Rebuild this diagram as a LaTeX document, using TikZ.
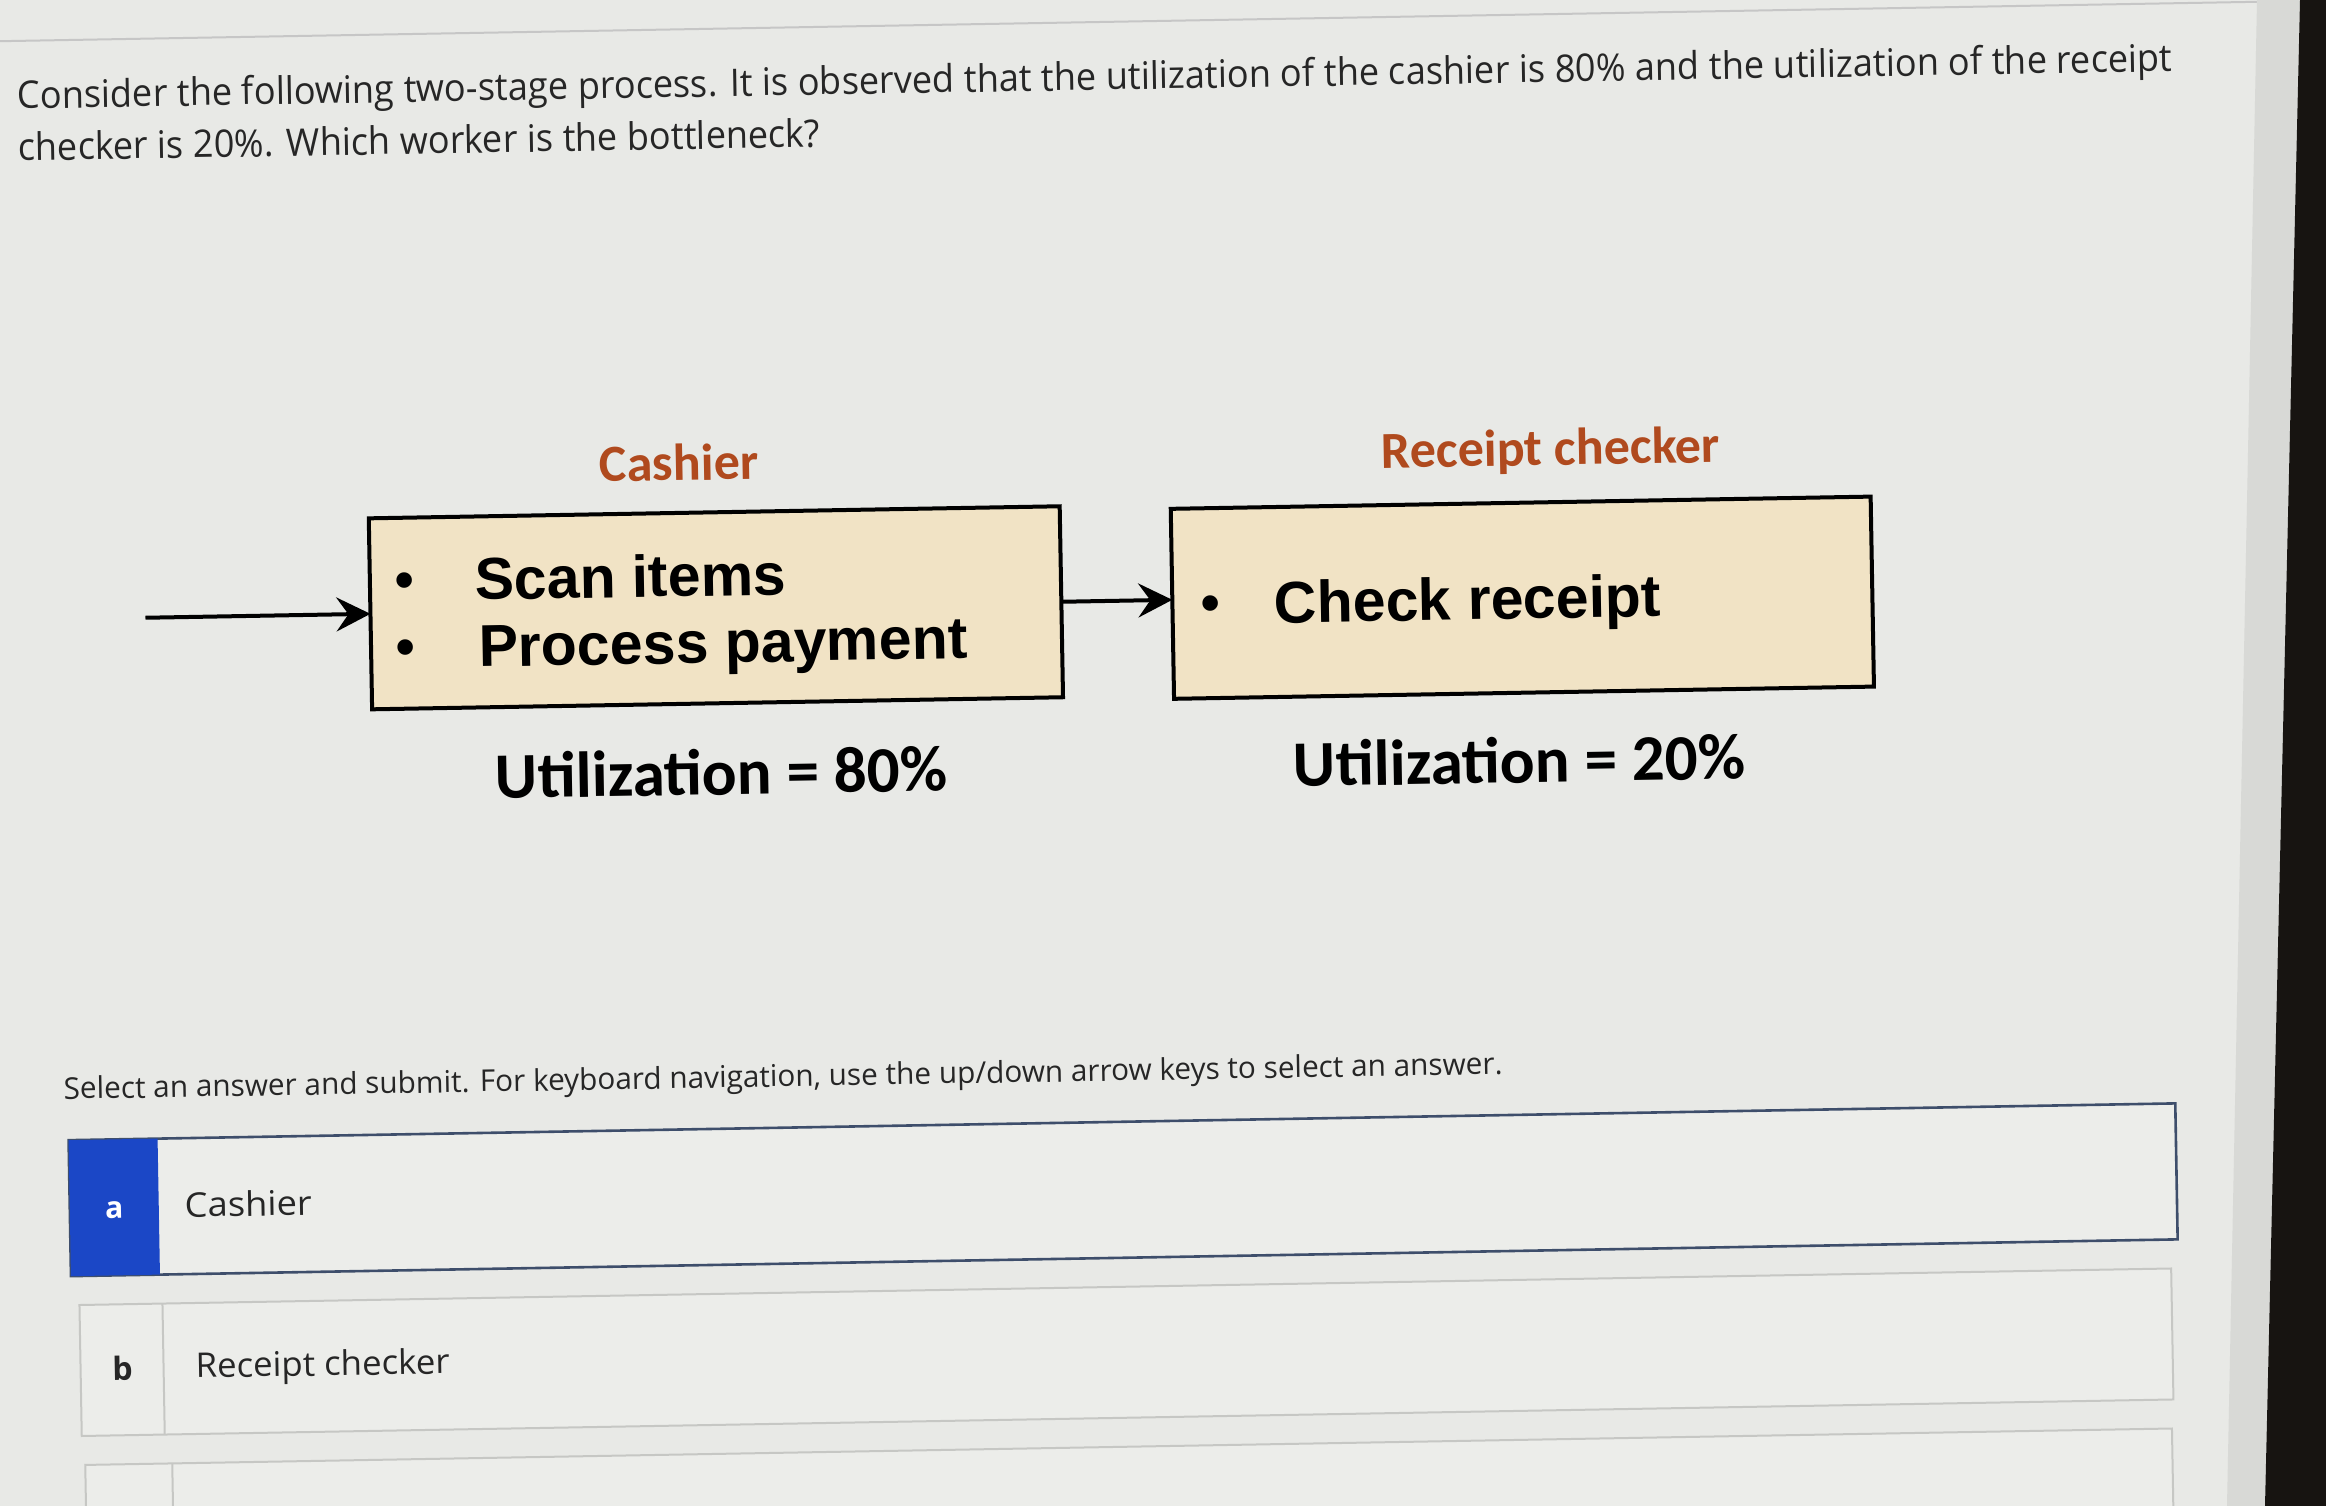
\documentclass[tikz,border=0pt]{standalone}
\usepackage{fontspec}
\usepackage{graphicx}
\setmainfont{Carlito}
\newfontfamily\arialfont{Liberation Sans}
\newfontfamily\calfont{Carlito}
\newfontfamily\uifont{Open Sans}
\usetikzlibrary{arrows.meta}
\definecolor{bg}{HTML}{E8E9E6}
\definecolor{optfill}{HTML}{ECEDEA}
\definecolor{boxfill}{HTML}{F1E3C5}
\definecolor{lblcol}{HTML}{B04A1E}
\definecolor{selblue}{HTML}{1B47C6}
\definecolor{selborder}{HTML}{3E4E6B}
\definecolor{optborder}{HTML}{C6C7C4}
\definecolor{txt}{HTML}{262626}
\definecolor{bezel}{HTML}{171411}
\definecolor{band}{HTML}{D8D9D6}
\newcommand{\fitw}[2]{\resizebox{#1}{\height}{#2}}
\begin{document}
\begin{tikzpicture}[x=0.5pt,y=-0.5pt,
  every node/.style={inner sep=0pt, outer sep=0pt},
  stagebox/.style={draw=black, line width=2pt, fill=boxfill, rectangle},
  boxtxt/.style={anchor=base west, text=black, font=\arialfont\bfseries\fontsize{29.5}{34}\selectfont},
  bul/.style={anchor=base, text=black, font=\arialfont\bfseries\fontsize{27}{30}\selectfont},
  rolelbl/.style={anchor=base, text=lblcol, font=\calfont\bfseries\fontsize{26}{30}\selectfont},
  utiltxt/.style={anchor=base west, text=black, font=\calfont\bfseries\fontsize{32.5}{38}\selectfont},
  flow/.style={line width=2pt, -{Stealth[length=17pt,width=17pt,inset=6pt]}},
  qtxt/.style={anchor=base west, text=txt, font=\uifont\fontsize{19}{23}\selectfont},
  instrtxt/.style={anchor=base west, text=txt, font=\uifont\fontsize{15}{18}\selectfont},
  opttxt/.style={anchor=base west, text=txt, font=\uifont\fontsize{17}{20}\selectfont},
  optbox/.style={draw=optborder, line width=1pt, fill=optfill, rectangle},
  selbox/.style={draw=selborder, line width=1.3pt, fill=optfill, rectangle},
  strip/.style={fill=selblue, rectangle},
  optline/.style={draw=optborder, line width=1pt}
]
\useasboundingbox (0,0) rectangle (2326,1506);
\fill[bg] (0,0) rectangle (2326,1506);
\clip (0,0) rectangle (2326,1506);

\begin{scope}[rotate around={1:(1163,753)}, transform shape]
  % header edge
  \draw[gray!45, line width=1pt] (-100,21) -- (2400,21);

  % question
  \node[qtxt] (q1) at (29,89) {\fitw{1077.5pt}{Consider the following two-stage process. It is observed that the utilization of the cashier is 80\% and the utilization of the receipt}};
  \node[qtxt] (q2) at (29,141) {\fitw{401pt}{checker is 20\%. Which worker is the bottleneck?}};

  % role labels
  \node[rolelbl] (lblcash) at (684,472) {Cashier};
  \node[rolelbl] (lblrec) at (1556,472) {Receipt checker};

  % stage boxes
  \node[stagebox, minimum width=345.5pt, minimum height=95.5pt] (cashier) at (718.5,600) {};
  \node[stagebox, minimum width=350pt, minimum height=95pt] (receipt) at (1525,604) {};

  \node[bul] (b1) at (408,585) {\textbullet};
  \node[bul] (b2) at (408,652) {\textbullet};
  \node[boxtxt] (scan) at (478,588) {Scan items};
  \node[boxtxt] (pay) at (481,655) {Process payment};
  \node[bul] (b3) at (1213,622) {\textbullet};
  \node[boxtxt] (check) at (1277,625) {Check receipt};

  % flow arrows
  \coordinate (src) at (148,600);
  \draw[flow] (src) -- (cashier.west);
  \draw[flow] (cashier.east) -- (cashier.east -| receipt.west);

  % utilization
  \node[utiltxt] (u1) at (495,787) {Utilization = 80\%};
  \node[utiltxt] (u2) at (1293,789) {Utilization = 20\%};

  % instruction
  \node[instrtxt] (instr) at (58,1080) {\fitw{719.5pt}{Select an answer and submit. For keyboard navigation, use the up/down arrow keys to select an answer.}};

  % option a (selected)
  \node[selbox, minimum width=1053.5pt, minimum height=68pt] (optA) at (1115.5,1189) {};
  \node[strip, minimum width=44.5pt, minimum height=68pt, anchor=west] (stripA) at (optA.west) {};
  \node[text=white, font=\uifont\bfseries\fontsize{15}{18}\selectfont, anchor=base] (la) at (106.5,1200) {a};
  \node[opttxt] (ta) at (177,1200) {\fitw{63.5pt}{Cashier}};

  % option b
  \node[optbox, minimum width=1046pt, minimum height=65.5pt] (optB) at (1116,1351.5) {};
  \draw[optline] ([xshift=41.5pt]optB.north west) -- ([xshift=41.5pt]optB.south west);
  \node[text=txt, font=\uifont\bfseries\fontsize{16}{20}\selectfont, anchor=base] (lb) at (112,1362) {b};
  \node[opttxt] (tb) at (185,1361) {\fitw{127pt}{Receipt checker}};

  % option c (cut off)
  \node[optbox, minimum width=1043.5pt, minimum height=127pt] (optC) at (1116.5,1573) {};
  \draw[optline] ([xshift=43.5pt]optC.north west) -- ([xshift=43.5pt]optC.south west);
\end{scope}

% monitor edge
\fill[band] (2257,0) -- (2300,0) -- (2265,1506) -- (2227,1506) -- cycle;
\fill[bezel] (2300,0) -- (2326,0) -- (2326,1506) -- (2265,1506) -- cycle;
\end{tikzpicture}
\end{document}
